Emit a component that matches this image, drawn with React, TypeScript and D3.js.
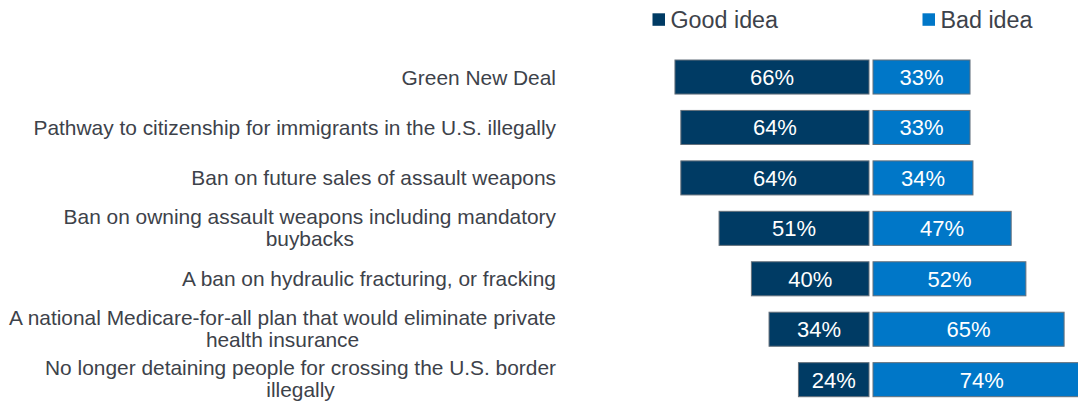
import React, { useEffect, useRef } from "react";
import * as d3 from "d3";

const categories = [
  "Green New Deal",
  "Pathway to citizenship for immigrants in the U.S. illegally",
  "Ban on future sales of assault weapons",
  "Ban on owning assault weapons including mandatory\nbuybacks",
  "A ban on hydraulic fracturing, or fracking",
  "A national Medicare-for-all plan that would eliminate private\nhealth insurance",
  "No longer detaining people for crossing the U.S. border\nillegally",
];
const goodIdea = [66, 64, 64, 51, 40, 34, 24];
const badIdea = [33, 33, 34, 47, 52, 65, 74];
const seriesNames = ["Good idea", "Bad idea"];
const seriesColors = ["#003b64", "#0077c8"];

const W = 1078;
const H = 404;

export default function App() {
  const ref = useRef<SVGSVGElement | null>(null);

  useEffect(() => {
    const svg = d3.select(ref.current);
    svg.selectAll("*").remove();

    const font = "'Liberation Sans', Arial, sans-serif";
    const textColor = "#3d424a";
    const labelRight = 556;
    const center = 871;
    const gap = 2;

    const y = d3
      .scaleBand<string>()
      .domain(categories)
      .range([51.8, 404.9])
      .paddingInner(0.325)
      .paddingOuter(0.1625);
    const x = d3.scaleLinear().domain([0, 100]).range([0, 294]);

    const rows = categories.map((c, i) => ({ c, g: goodIdea[i], b: badIdea[i] }));

    // category labels
    const lg = svg.append("g");
    rows.forEach((r) => {
      const lines = r.c.split("\n");
      const cy = (y(r.c) as number) + y.bandwidth() / 2;
      const t = lg
        .append("text")
        .attr("font-family", font)
        .attr("font-size", 20.9)
        .attr("fill", textColor);
      if (lines.length === 1) {
        t.attr("x", labelRight).attr("y", cy).attr("dy", "0.36em").attr("text-anchor", "end").text(lines[0]);
      } else {
        const first = t
          .append("tspan")
          .attr("x", labelRight)
          .attr("y", cy - 12)
          .attr("dy", "0.36em")
          .attr("text-anchor", "end")
          .text(lines[0]);
        const w = (first.node() as SVGTextContentElement).getComputedTextLength();
        const mid = labelRight - w / 2;
        t.append("tspan")
          .attr("x", mid)
          .attr("y", cy + 10)
          .attr("dy", "0.36em")
          .attr("text-anchor", "middle")
          .text(lines[1]);
      }
    });

    // bars
    const bg = svg.append("g");
    rows.forEach((r) => {
      const top = y(r.c) as number;
      const h = y.bandwidth();
      bg.append("rect")
        .attr("x", center - gap - x(r.g))
        .attr("y", top)
        .attr("width", x(r.g))
        .attr("height", h)
        .attr("fill", seriesColors[0])
        .attr("stroke", "#64707b")
        .attr("stroke-width", 1);
      bg.append("rect")
        .attr("x", center + gap)
        .attr("y", top)
        .attr("width", x(r.b))
        .attr("height", h)
        .attr("fill", seriesColors[1])
        .attr("stroke", "#64707b")
        .attr("stroke-width", 1);
      bg.append("text")
        .attr("x", center - gap - x(r.g) / 2)
        .attr("y", top + h / 2)
        .attr("dy", "0.36em")
        .attr("text-anchor", "middle")
        .attr("font-family", font)
        .attr("font-size", 22)
        .attr("fill", "#ffffff")
        .text(`${r.g}%`);
      bg.append("text")
        .attr("x", center + gap + x(r.b) / 2)
        .attr("y", top + h / 2)
        .attr("dy", "0.36em")
        .attr("text-anchor", "middle")
        .attr("font-family", font)
        .attr("font-size", 22)
        .attr("fill", "#ffffff")
        .text(`${r.b}%`);
    });

    // legend
    const legX = [652.5, 922.5];
    const leg = svg.append("g");
    seriesNames.forEach((n, i) => {
      leg.append("rect")
        .attr("x", legX[i])
        .attr("y", 13.3)
        .attr("width", 12.5)
        .attr("height", 12.5)
        .attr("fill", seriesColors[i]);
      leg.append("text")
        .attr("x", legX[i] + 18)
        .attr("y", 19.5)
        .attr("dy", "0.36em")
        .attr("font-family", font)
        .attr("font-size", 23.3)
        .attr("fill", textColor)
        .text(n);
    });
  }, []);

  return (
    <svg
      ref={ref}
      width={W}
      height={H}
      style={{ position: "absolute", left: 0, top: 0, background: "#ffffff" }}
    />
  );
}
